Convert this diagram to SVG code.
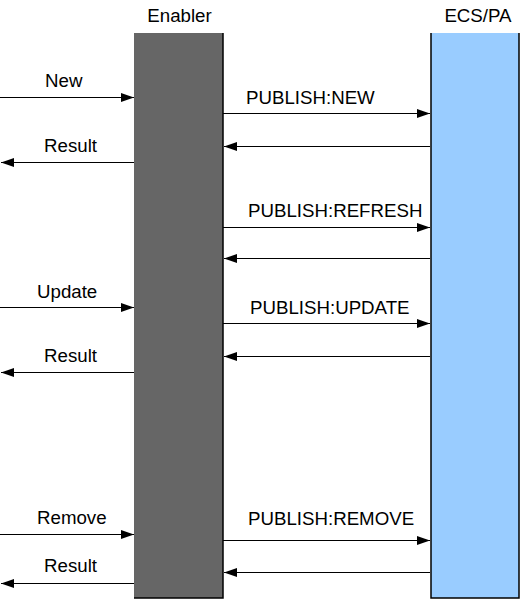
<svg xmlns="http://www.w3.org/2000/svg" width="520" height="599" viewBox="0 0 520 599">
<style>
text{font-family:"Liberation Sans",Arial,sans-serif;font-size:18.7px;fill:#000}
.c{fill:none;stroke:#000;stroke-width:1;marker-end:url(#ah)}
.b{fill:none;stroke:#000;stroke-width:1.5}
</style>
<defs>
<marker id="ah" markerUnits="userSpaceOnUse" markerWidth="14" markerHeight="10" refX="13" refY="4.5" orient="auto">
<path d="M0,0 L13,4.5 L0,9 z" fill="#000"/>
</marker>
</defs>
<rect width="520" height="599" fill="#fff"/>
<g id="enabler">
<rect x="134" y="33" width="89" height="565" fill="#666666"/>
<path class="b" d="M223,33 V598 H134"/>
<text x="179.5" y="22" text-anchor="middle">Enabler</text>
</g>
<g id="ecspa">
<rect x="431" y="33" width="88" height="565" fill="#99ccff"/>
<path class="b" d="M431,33 V598 H519 V33"/>
<text x="478" y="22" text-anchor="middle">ECS/PA</text>
</g>
<g id="connectors">
<path class="c" d="M0,97.5 H134"/>
<path class="c" d="M134,162.5 H1"/>
<path class="c" d="M223,113.5 H430"/>
<path class="c" d="M430,146.5 H224"/>
<path class="c" d="M223,227.5 H430"/>
<path class="c" d="M430,258.5 H224"/>
<path class="c" d="M0,307.5 H134"/>
<path class="c" d="M223,323.5 H430"/>
<path class="c" d="M430,356.5 H224"/>
<path class="c" d="M134,372.5 H1"/>
<path class="c" d="M0,534.5 H134"/>
<path class="c" d="M223,540.5 H430"/>
<path class="c" d="M430,572.5 H224"/>
<path class="c" d="M134,583.5 H1"/>
</g>
<g id="labels">
<text x="45" y="87">New</text>
<text x="44" y="152">Result</text>
<text x="246" y="104">PUBLISH:NEW</text>
<text x="248" y="217">PUBLISH:REFRESH</text>
<text x="37" y="298">Update</text>
<text x="250" y="314">PUBLISH:UPDATE</text>
<text x="44" y="362">Result</text>
<text x="37" y="524">Remove</text>
<text x="248" y="525">PUBLISH:REMOVE</text>
<text x="44" y="572">Result</text>
</g>
</svg>
